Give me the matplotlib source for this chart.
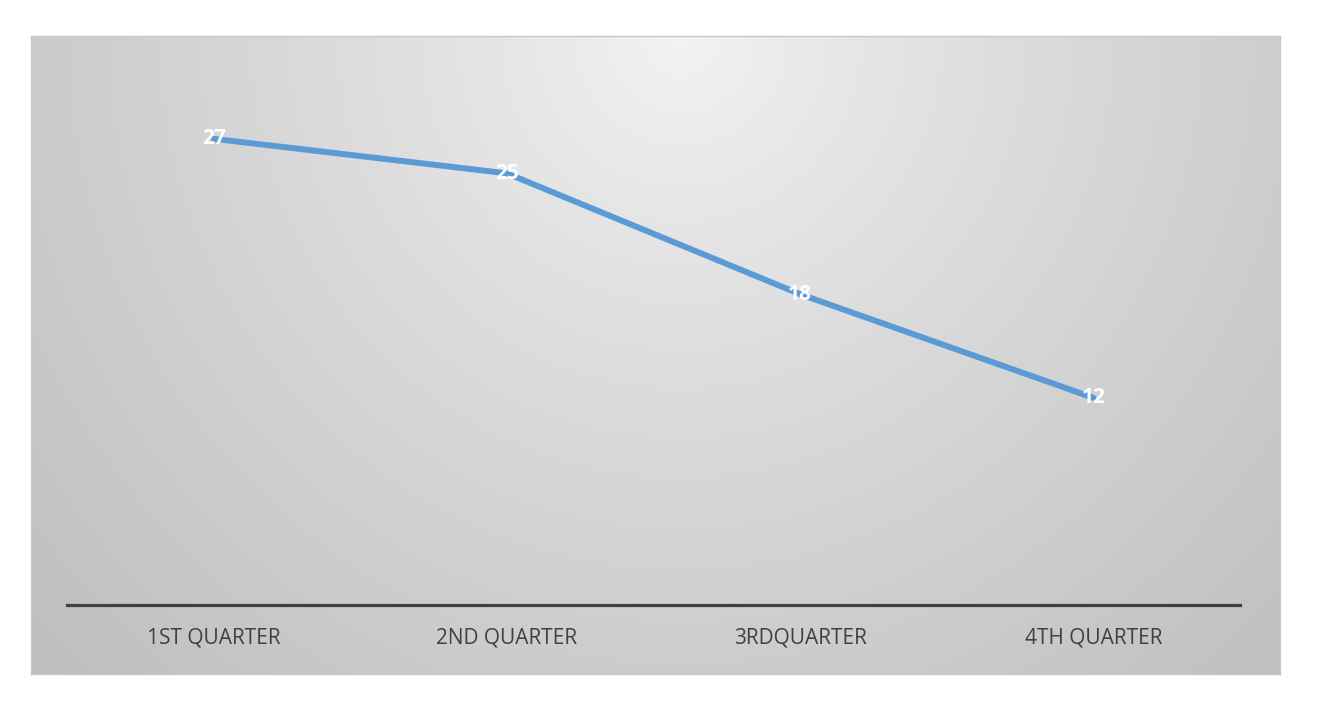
import numpy as np
import matplotlib
matplotlib.use('Agg')
from matplotlib import pyplot as plt

quarters = ['1ST QUARTER', '2ND QUARTER', '3RDQUARTER', '4TH QUARTER']
values = [27, 25, 18, 12]

fig = plt.figure(figsize=(13.24, 7.21), dpi=100)
fig.patch.set_facecolor('white')

# background panel with radial gray gradient
bg = fig.add_axes([31 / 1324, 47 / 721, 1249 / 1324, 638 / 721])
h, w = 320, 620
yy, xx = np.mgrid[0:h, 0:w]
cx, cy = w * 0.52, h * 0.0
d = np.sqrt(((xx - cx) / w) ** 2 + ((yy - cy) / h * 0.5) ** 2)
d = d / d.max()
shade = 0.955 - 0.21 * d ** 0.85
img = np.dstack([shade, shade, shade])
bg.imshow(img, aspect='auto', extent=[0, 1, 0, 1], origin='upper', interpolation='bilinear')
bg.set_xlim(0, 1)
bg.set_ylim(0, 1)
bg.set_xticks([])
bg.set_yticks([])
for s in bg.spines.values():
    s.set_color('#c8c8c8')
    s.set_linewidth(1)

ax = fig.add_axes([67 / 1324, 116 / 721, 1173 / 1324, 518 / 721])
ax.patch.set_alpha(0)
x = np.arange(len(quarters))
ax.plot(x, values, color='#5B9BD5', linewidth=4.3, solid_capstyle='round', zorder=3)
for xi, v in zip(x, values):
    ax.text(xi, v, str(v), color='white', fontsize=15, fontweight='bold',
            ha='center', va='center', family='Open Sans', zorder=4)

ax.set_xlim(-0.5, len(quarters) - 0.5)
ax.set_ylim(0, 30)
ax.set_yticks([])
ax.set_xticks(x)
ax.set_xticklabels(quarters, fontsize=15, color='#404040', family='Open Sans')
ax.tick_params(axis='x', length=0, pad=16)
for side in ['top', 'left', 'right']:
    ax.spines[side].set_visible(False)
ax.spines['bottom'].set_color('#404040')
ax.spines['bottom'].set_linewidth(2.3)

plt.savefig('out.png', dpi=100)
